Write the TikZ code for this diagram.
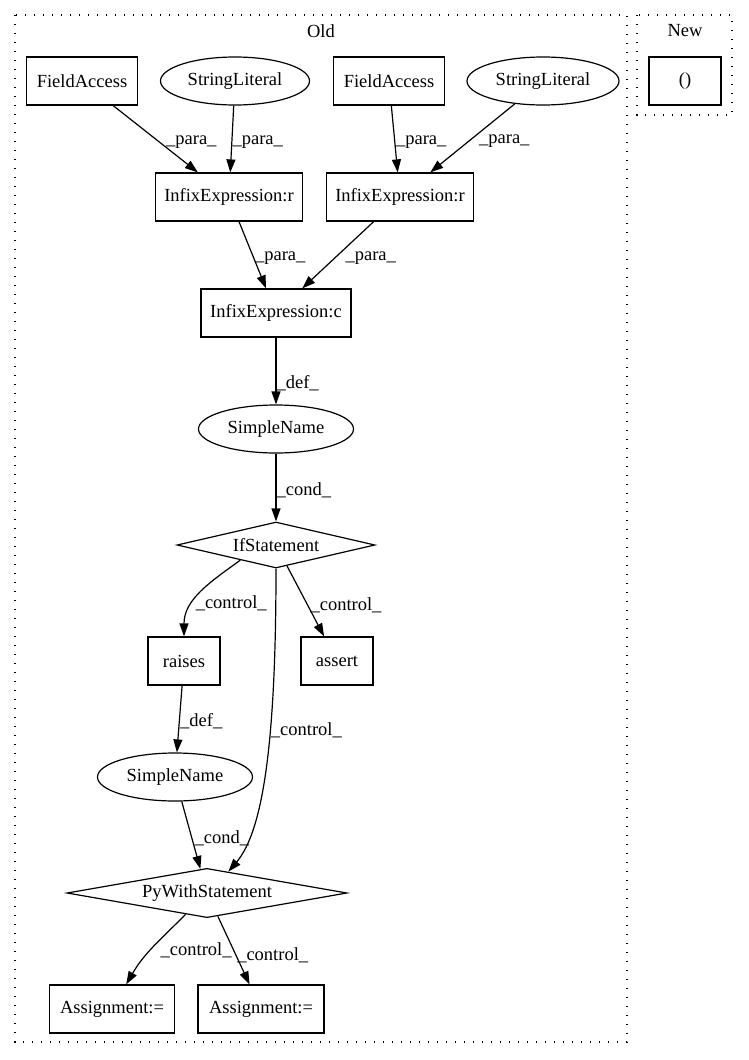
\documentclass[tikz,border=0pt]{standalone}
\usepackage{fontspec}
\setmainfont{Liberation Serif}
\usetikzlibrary{shapes.geometric,arrows.meta}

\begin{document}
\begin{tikzpicture}[x=1pt,y=1pt,
  every node/.style={font=\fontsize{18.5}{20}\selectfont},
  box/.style={draw, line width=1.2pt, minimum height=48pt, inner sep=0pt},
  oval/.style={draw, ellipse, line width=1.2pt, minimum height=48pt, inner sep=0pt},
  cond/.style={draw, diamond, aspect=4, line width=1.2pt, inner sep=0pt},
  lbl/.style={anchor=west, inner sep=0pt, yshift=-3pt},
  flow/.style={line width=1.2pt, -{Triangle[length=13pt,width=9pt]}},
  clus/.style={line width=1.2pt, dash pattern=on 1.2pt off 7.8pt}]
\useasboundingbox (0,0) rectangle (748,-1060);
% clusters
\draw[clus] (15,-15) rectangle (627,-1042);
\node (old) at (321,-31) {Old};
\draw[clus] (637,-15) rectangle (732,-115);
\node (new) at (685,-31) {New};
\node[box, minimum width=72pt] (unit) at (685,-81) {()};
% nodes
\node[box, minimum width=111pt] (fa1) at (82,-81) {FieldAccess};
\node[oval, minimum width=149pt] (sl1) at (235,-81) {StringLiteral};
\node[box, minimum width=111pt] (fa2) at (389,-81) {FieldAccess};
\node[oval, minimum width=152pt] (sl2) at (543,-81) {StringLiteral};
\node[box, minimum width=147pt] (ir1) at (229,-197) {InfixExpression:r};
\node[box, minimum width=147pt] (ir2) at (400,-197) {InfixExpression:r};
\node[box, minimum width=150pt] (ic) at (276,-313) {InfixExpression:c};
\node[oval, minimum width=155pt] (sn1) at (276,-429) {SimpleName};
\node[cond, minimum width=198pt, minimum height=46pt] (ifs) at (276,-545) {IfStatement};
\node[box, minimum width=72pt] (raises) at (184,-661) {raises};
\node[box, minimum width=72pt] (assert) at (337,-661) {assert};
\node[oval, minimum width=155pt] (sn2) at (175,-777) {SimpleName};
\node[cond, minimum width=280pt, minimum height=48pt] (pyw) at (207,-893) {PyWithStatement};
\node[box, minimum width=125pt] (asg1) at (112,-1009) {Assignment:=};
\node[box, minimum width=126pt] (asg2) at (261,-1009) {Assignment:=};
% edges
\draw[flow] (fa1) -- node[lbl, xshift=10pt] {\_para\_} (ir1);
\draw[flow] (sl1) -- node[lbl] {\_para\_} (ir1);
\draw[flow] (fa2) -- node[lbl, xshift=1pt] {\_para\_} (ir2);
\draw[flow] (sl2) -- node[lbl, xshift=6pt] {\_para\_} (ir2);
\draw[flow] (ir1) -- node[lbl, xshift=2pt] {\_para\_} (ic);
\draw[flow] (ir2) -- node[lbl, xshift=7pt] {\_para\_} (ic);
\draw[flow] (ic) -- node[lbl, pos=0.63] {\_def\_} (sn1);
\draw[flow] (sn1) -- node[lbl, pos=0.49] {\_cond\_} (ifs);
\draw[flow] (ifs.-157) to[out=-144,in=90] node[lbl, pos=0.6] {\_control\_} (raises);
\draw[flow] (ifs) -- node[lbl, pos=0.51, xshift=4pt] {\_control\_} (assert);
\draw[flow] (ifs.south) .. controls +(0,-172) and +(35,41) .. node[lbl, pos=0.37] {\_control\_} (pyw.45);
\draw[flow] (raises) -- node[lbl, pos=0.49] {\_def\_} (sn2);
\draw[flow] (sn2) -- node[lbl, pos=0.5, xshift=3pt] {\_cond\_} (pyw);
\draw[flow] (pyw) to[out=-135,in=60] node[lbl, pos=0.5, xshift=7pt] {\_control\_} (asg1);
\draw[flow] (pyw) -- node[lbl, pos=0.53, xshift=2pt] {\_control\_} (asg2);
\end{tikzpicture}
\end{document}
